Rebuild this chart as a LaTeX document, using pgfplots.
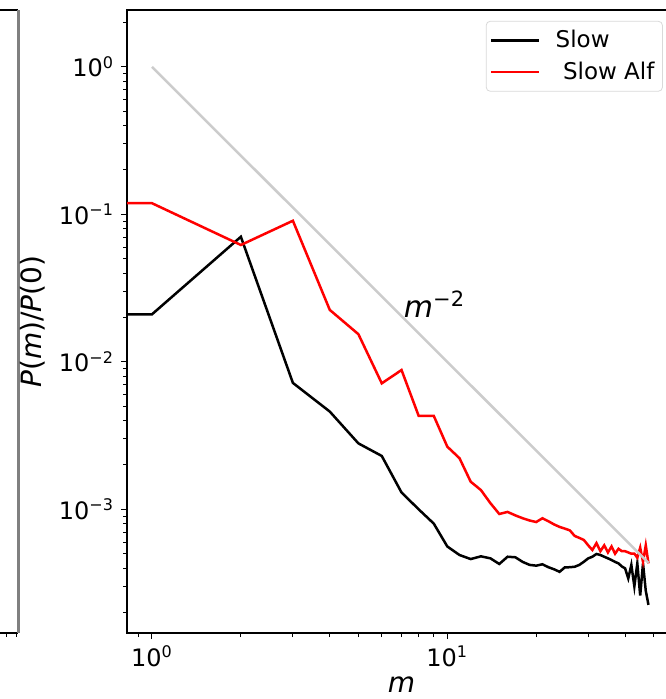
\documentclass[border=0pt]{standalone}
\usepackage{fontspec}
\setmainfont{DejaVu Sans}
\usepackage{pgfplots}
\pgfplotsset{compat=1.18}
\begin{document}
\begin{tikzpicture}
% fragment of the neighbouring panel
\draw[black,line width=0.8pt] (0pt,344.5pt) -- (9.2pt,344.5pt);
\draw[black,line width=0.8pt] (0pt,33pt) -- (9.2pt,33pt);
\draw[black!50,line width=1.2pt] (9.2pt,33pt) -- (9.2pt,344.5pt);
\draw[black,line width=0.5pt] (3.4pt,33pt) -- (3.4pt,31pt);
\draw[black,line width=0.5pt] (8pt,33pt) -- (8pt,31pt);
\begin{axis}[
  at={(63.5pt,33pt)}, anchor=south west,
  scale only axis, width=274.5pt, height=311.5pt,
  xmode=log, ymode=log,
  xmin=0.823, xmax=59.5, ymin=1.45e-4, ymax=2.43,
  axis line style={line width=0.8pt},
  tick align=outside, xtick pos=bottom, ytick pos=left,
  major tick length=3pt, minor tick length=2pt,
  every tick/.style={black, line width=0.5pt},
  xtick={1,10}, xticklabels={10\textsuperscript{0},10\textsuperscript{1}},
  minor xtick={0.9,2,3,4,5,6,7,8,9,20,30,40,50},
  ytick={1e-3,1e-2,1e-1,1},
  yticklabels={10\textsuperscript{−3},10\textsuperscript{−2},10\textsuperscript{−1},10\textsuperscript{0}},
  minor ytick={2e-4,3e-4,4e-4,5e-4,6e-4,7e-4,8e-4,9e-4,2e-3,3e-3,4e-3,5e-3,6e-3,7e-3,8e-3,9e-3,2e-2,3e-2,4e-2,5e-2,6e-2,7e-2,8e-2,9e-2,2e-1,3e-1,4e-1,5e-1,6e-1,7e-1,8e-1,9e-1,2},
  ticklabel style={font=\fontsize{12}{14}\selectfont},
  xlabel={\textit{m}}, ylabel={\textit{P}(\textit{m})/\textit{P}(0)},
  xlabel style={yshift=2pt},
  label style={font=\fontsize{14}{16}\selectfont},
  legend style={at={(0.976,0.9825)}, anchor=north east, draw=black!15, rounded corners=2pt,
    font=\fontsize{11.5}{14}\selectfont, cells={anchor=west}, inner xsep=2pt, inner ysep=2.5pt,
    row sep=1.5pt},
  legend image code/.code={\draw[#1] (0pt,0pt) -- (24pt,0pt); \path (29.5pt,0pt);},
]
\addplot[black, line width=1.25pt] coordinates {
(0.5,0.021) (1,0.021) (2,0.0705) (3,0.0072) (4,0.0046) (5,0.0028) (6,0.0023) (7,0.0013) (8,0.00100)
(9,0.00080) (10,0.00056) (11,0.00049) (12,0.00046) (13,0.00048) (14,0.000465) (15,0.000426)
(16,0.000477) (17,0.000473) (18,0.00044) (19,0.00042) (20,0.000415) (21,0.000424) (22,0.000405)
(23,0.000392) (24,0.000377) (25,0.000404) (26,0.000405) (27,0.000408) (28,0.00042) (29,0.000441)
(30,0.000465) (31,0.000477) (32,0.000498) (33,0.00049) (34,0.000477) (35,0.000465) (36,0.000453)
(37,0.00044) (38,0.00043) (39,0.00041) (40,0.000398) (41,0.00034) (42,0.00042) (43,0.0003)
(44,0.00043) (45,0.00026) (46,0.00043) (47,0.00028) (48,0.000225)
};
\addlegendentry{Slow}
\addplot[red, line width=1.25pt] coordinates {
(0.5,0.119) (1,0.119) (2,0.062) (3,0.0905) (4,0.0225) (5,0.0154) (6,0.00715) (7,0.0088) (8,0.0043)
(9,0.0043) (10,0.00266) (11,0.00222) (12,0.00154) (13,0.00135) (14,0.0011) (15,0.00093)
(16,0.00096) (17,0.00091) (18,0.00087) (19,0.00084) (20,0.00082) (21,0.00087) (22,0.00083)
(23,0.00079) (24,0.00076) (25,0.00074) (26,0.00072) (27,0.00066) (28,0.00064) (29,0.00062)
(30,0.00057) (31,0.00053) (32,0.00059) (33,0.00052) (34,0.00057) (35,0.00051) (36,0.00056)
(37,0.0005) (38,0.00054) (39,0.00052) (40,0.00052) (41,0.00051) (42,0.0005) (43,0.0005)
(44,0.00047) (45,0.00055) (46,0.00044) (47,0.00057) (48,0.00043)
};
\addlegendentry{\ Slow Alf}
\addplot[black!20, line width=1.25pt, forget plot] coordinates {(1,1) (48,0.000434)};
\node[anchor=base west, font=\fontsize{15}{18}\selectfont] at (axis cs:6.75,0.02) {\textit{m}\textsuperscript{−2}};
\end{axis}
\pgfresetboundingbox
\useasboundingbox (0pt,0pt) rectangle (332.5pt,349.5pt);
\end{tikzpicture}
\end{document}
